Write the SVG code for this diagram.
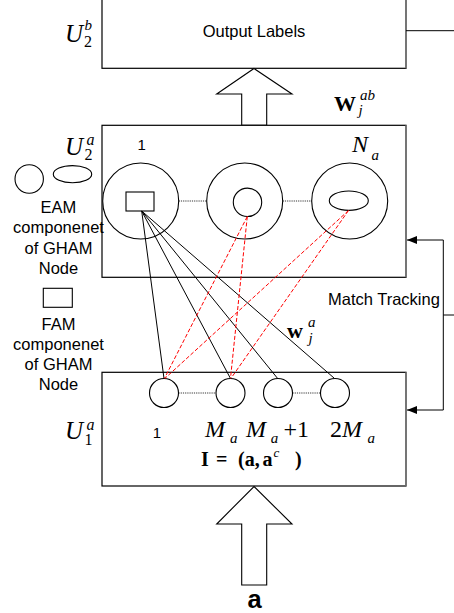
<svg xmlns="http://www.w3.org/2000/svg" width="454" height="613" viewBox="0 0 454 613">
<style>
.box{fill:#fff;stroke:#000;stroke-width:1.2}
.redge{stroke:#7a7a7a;stroke-width:1.6;fill:none}
.node{fill:#fff;stroke:#000;stroke-width:1.1}
.ln{stroke:#000;stroke-width:1;fill:none}
.dot{stroke:#000;stroke-width:0.8;stroke-dasharray:1.2 1;fill:none}
.red{stroke:#ff0000;stroke-width:1;stroke-dasharray:4 2;fill:none}
.sans{font-family:"Liberation Sans",Arial,sans-serif;fill:#000}
.ser{font-family:"Liberation Serif","Times New Roman",serif;fill:#000}
.it{font-style:italic}
.bd{font-weight:bold}
</style>
<defs>
<marker id="ah" markerWidth="10" markerHeight="8" refX="10" refY="4" orient="auto" markerUnits="userSpaceOnUse">
<path d="M0,0 L10,4 L0,8 Z" fill="#000"/>
</marker>
</defs>

<g id="output-layer">
<rect class="box" x="102" y="-5" width="304" height="73.3"/>
<line class="redge" x1="406" y1="-5" x2="406" y2="68.3"/>
<text class="sans" x="254" y="36.5" font-size="16.5" text-anchor="middle">Output Labels</text>
<text class="ser it" x="65" y="41.5" font-size="25">U</text>
<text class="ser it" x="84.5" y="30" font-size="15">b</text>
<text class="ser" x="84" y="46.5" font-size="16">2</text>
</g>

<g id="arrow-up-top">
<polygon class="node" points="254,68.5 292,94 266.7,94 266.7,125.3 241.7,125.3 241.7,94 216.7,94"/>
<text class="ser bd" x="334" y="111" font-size="22">W</text>
<text class="ser it" x="360" y="100" font-size="15">ab</text>
<text class="ser it" x="358.5" y="115" font-size="15">j</text>
</g>

<g id="category-layer">
<rect class="box" x="102" y="125.3" width="304" height="152"/>
<line class="redge" x1="406" y1="125.3" x2="406" y2="277.3"/>
<text class="ser it" x="65" y="155" font-size="25">U</text>
<text class="ser it" x="86.5" y="145" font-size="16">a</text>
<text class="ser" x="84.5" y="160" font-size="16">2</text>
<text class="sans" x="141.7" y="150" font-size="15" text-anchor="middle">1</text>
<text class="ser it" x="352" y="151.7" font-size="24">N</text>
<text class="ser it" x="371.5" y="159.5" font-size="15">a</text>
</g>

<g id="category-node-1">
<circle class="node" cx="140.7" cy="201" r="38"/>
<rect class="node" x="126" y="192" width="28" height="19"/>
</g>
<g id="category-node-2">
<circle class="node" cx="244.7" cy="201" r="38"/>
<circle class="node" cx="247.5" cy="202.3" r="14.2"/>
</g>
<g id="category-node-Na">
<circle class="node" cx="349.7" cy="201" r="38"/>
<ellipse class="node" cx="348.8" cy="200.7" rx="19.5" ry="9.7"/>
</g>

<g id="legend">
<circle class="node" cx="29.2" cy="179" r="14.2"/>
<ellipse class="node" cx="72.5" cy="174.2" rx="19.2" ry="8.6"/>
<text class="sans" font-size="16.5" text-anchor="middle"><tspan x="58.5" y="213">EAM</tspan><tspan x="58.5" y="233.3">componenet</tspan><tspan x="58.5" y="254.3">of GHAM</tspan><tspan x="58.5" y="273.5">Node</tspan></text>
<rect class="node" x="43.3" y="288.3" width="29" height="19"/>
<text class="sans" font-size="16.5" text-anchor="middle"><tspan x="58.5" y="330">FAM</tspan><tspan x="58.5" y="350">componenet</tspan><tspan x="58.5" y="370">of GHAM</tspan><tspan x="58.5" y="390">Node</tspan></text>
</g>

<g id="input-layer">
<rect class="box" x="102" y="372.3" width="304" height="113.7"/>
<line class="redge" x1="406" y1="372.3" x2="406" y2="486"/>
<text class="ser it" x="65" y="439" font-size="25">U</text>
<text class="ser it" x="86.5" y="430" font-size="16">a</text>
<text class="ser" x="84.5" y="445" font-size="16">1</text>
<text class="sans" x="157" y="437.5" font-size="15" text-anchor="middle">1</text>
<text class="ser it" x="205" y="436.7" font-size="24">M</text>
<text class="ser it" x="230" y="443" font-size="15">a</text>
<text class="ser it" x="246" y="436.7" font-size="24">M</text>
<text class="ser it" x="270.7" y="443" font-size="15">a</text>
<text class="ser" x="283.5" y="436.7" font-size="24">+1</text>
<text class="ser" x="330" y="436.7" font-size="24">2<tspan font-style="italic">M</tspan></text>
<text class="ser it" x="367.5" y="443" font-size="15">a</text>
<text class="ser bd" x="201" y="465.5" font-size="20">I</text>
<text class="ser bd" x="216" y="465.5" font-size="20">=</text>
<text class="ser bd" x="238" y="465.5" font-size="20">(a,</text>
<text class="ser bd" x="262.5" y="465.5" font-size="20">a</text>
<text class="ser it" x="273.5" y="457" font-size="13">c</text>
<text class="ser bd" x="295" y="465.5" font-size="20">)</text>
</g>

<g id="input-node-1"><circle class="node" cx="164" cy="393" r="14.5"/></g>
<g id="input-node-Ma"><circle class="node" cx="230.5" cy="393" r="14.5"/></g>
<g id="input-node-Ma1"><circle class="node" cx="278" cy="393" r="14.5"/></g>
<g id="input-node-2Ma"><circle class="node" cx="335" cy="393" r="14.5"/></g>

<g id="arrow-up-input">
<polygon class="node" points="254,486.5 292,524 266.7,524 266.7,585 241.7,585 241.7,524 216.7,524"/>
<text class="sans bd" x="254.7" y="608" font-size="25.5" text-anchor="middle">a</text>
</g>

<g id="connectors">
<line class="dot" x1="178.7" y1="201" x2="206.7" y2="201"/>
<line class="dot" x1="282.7" y1="201" x2="311.7" y2="201"/>
<line class="dot" x1="178.5" y1="393" x2="216" y2="393"/>
<line class="dot" x1="292.5" y1="393" x2="320.5" y2="393"/>
<line class="ln" x1="141.7" y1="211" x2="164" y2="378.5"/>
<line class="ln" x1="141.7" y1="211" x2="230.5" y2="378.5"/>
<line class="ln" x1="141.7" y1="211" x2="277.5" y2="378.3"/>
<line class="ln" x1="141.7" y1="211" x2="334" y2="378"/>
<line class="red" x1="247.3" y1="216.5" x2="164.5" y2="378.3"/>
<line class="red" x1="247.3" y1="216.5" x2="230.5" y2="378.3"/>
<line class="red" x1="348.5" y1="210.5" x2="165" y2="378.3"/>
<line class="red" x1="348.5" y1="210.5" x2="231" y2="378.3"/>
<text class="ser bd" x="287" y="338.3" font-size="22">w</text>
<text class="ser it" x="308" y="327.3" font-size="15">a</text>
<text class="ser it" x="308.5" y="343" font-size="15">j</text>
<line class="ln" x1="406" y1="30.7" x2="454" y2="30.7"/>
<polyline class="ln" points="443.3,240 443.3,410"/>
<line class="ln" x1="443.3" y1="240" x2="407" y2="240" marker-end="url(#ah)"/>
<line class="ln" x1="443.3" y1="410" x2="407" y2="410" marker-end="url(#ah)"/>
<line class="ln" x1="443.3" y1="315" x2="454" y2="315"/>
<text class="sans" x="328" y="305" font-size="16.5">Match Tracking</text>
</g>
</svg>
